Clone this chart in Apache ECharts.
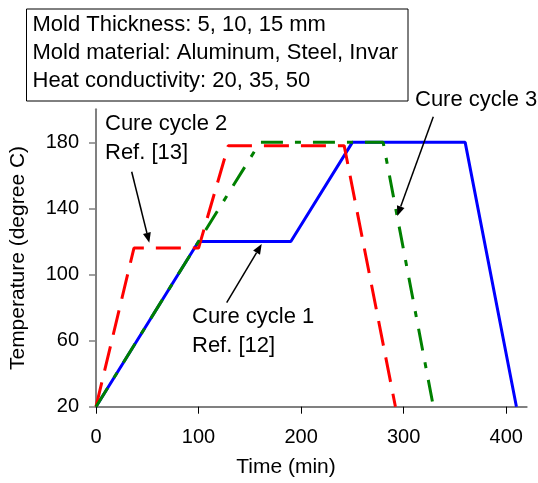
<!DOCTYPE html>
<html><head><meta charset="utf-8">
<script src="https://cdn.jsdelivr.net/npm/echarts@6/dist/echarts.min.js"></script>
<style>html,body{margin:0;padding:0;background:#fff}#c{width:538px;height:483px}</style>
</head><body><div id="c"></div>
<script>
// ---- data ----
const cycle1Time = [0, 100, 190, 250, 360, 410];
const cycle1Temp = [20, 120, 120, 180, 180, 20];
const cycle2Time = [0, 37, 100, 129, 242, 292];
const cycle2Temp = [20, 116, 116, 178, 178, 20];
const cycle3Time = [0, 100, 160, 280, 329];
const cycle3Temp = [20, 120, 180, 180, 20];
const xTicks = [0, 100, 200, 300, 400];
const yTicks = [20, 60, 100, 140, 180];
const infoLines = ['Mold Thickness: 5, 10, 15 mm', 'Mold material: Aluminum, Steel, Invar', 'Heat conductivity: 20, 35, 50'];
const xTitle = 'Time (min)';
const yTitle = 'Temperature (degree C)';

const FONT = '"Liberation Sans", Arial, Helvetica, sans-serif';
const pairs = (t, v) => t.map((x, i) => [x, v[i]]);

function arrow(x1, y1, x2, y2) {
  const a = Math.atan2(y2 - y1, x2 - x1), L = 10, W = 4;
  const bx = x2 - L * Math.cos(a), by = y2 - L * Math.sin(a);
  return [
    { type: 'line', z: 50, shape: { x1, y1, x2: bx, y2: by }, style: { stroke: '#000', lineWidth: 1.5 } },
    { type: 'polygon', z: 50, shape: { points: [[x2, y2], [bx + W * Math.sin(a), by - W * Math.cos(a)], [bx - W * Math.sin(a), by + W * Math.cos(a)]] }, style: { fill: '#000' } }
  ];
}
function label(text, x, y, size) {
  return { type: 'text', z: 50, x, y, style: { text, font: size + 'px ' + FONT, fill: '#000', verticalAlign: 'middle', textVerticalAlign: 'middle', align: 'left' } };
}

const graphics = [
  { type: 'rect', z: 60, shape: { x: 26.5, y: 9, width: 381.5, height: 92 }, style: { fill: '#fff', stroke: '#000', lineWidth: 1 } },
  ...infoLines.map((t, i) => Object.assign(label(t, 32.5, 24.5 + i * 28, 22), { z: 61 })),
  label('Cure cycle 2', 105, 124, 22),
  label('Ref. [13]', 105, 153, 22),
  label('Cure cycle 1', 192, 317, 22),
  label('Ref. [12]', 192, 346, 22),
  label('Cure cycle 3', 415, 100, 22),
  ...arrow(131.7, 171.7, 149.3, 242.7),
  ...arrow(226.7, 302.7, 261.7, 244),
  ...arrow(433.3, 116.7, 397.3, 216),
  { type: 'text', z: 50, x: 286, y: 467, style: { text: xTitle, font: '21px ' + FONT, fill: '#000', align: 'center', verticalAlign: 'middle', textAlign: 'center', textVerticalAlign: 'middle' } }
];

const axisLine = { show: true, lineStyle: { color: '#808080', width: 2 } };
const chart = echarts.init(document.getElementById('c'), null, { renderer: 'canvas' });
chart.setOption({
  animation: false,
  backgroundColor: '#fff',
  grid: { left: 94, right: 11.3, top: 109.3, bottom: 76.3 },
  xAxis: {
    type: 'value', min: 0, max: 420,
    axisLine, splitLine: { show: false },
    axisTick: { show: true, length: 7, customValues: xTicks, lineStyle: { color: '#000', width: 1 } },
    axisLabel: { customValues: xTicks, margin: 21, color: '#000', fontSize: 20, fontFamily: FONT }
  },
  yAxis: {
    type: 'value', min: 20, max: 200,
    name: yTitle, nameLocation: 'middle', nameGap: 67,
    nameTextStyle: { color: '#000', fontSize: 21, fontFamily: FONT },
    axisLine, splitLine: { show: false },
    axisTick: { show: true, length: 7, customValues: yTicks, lineStyle: { color: '#808080', width: 1.5 } },
    axisLabel: { customValues: yTicks, margin: 17, color: '#000', fontSize: 20, fontFamily: FONT }
  },
  series: [
    { type: 'line', name: 'Cure cycle 1', data: pairs(cycle1Time, cycle1Temp), symbol: 'none', z: 2,
      lineStyle: { color: '#0000ff', width: 3 } },
    { type: 'line', name: 'Cure cycle 2', data: pairs(cycle2Time, cycle2Temp), symbol: 'none', z: 3,
      lineStyle: { color: '#ff0000', width: 3, type: [25, 12] } },
    { type: 'line', name: 'Cure cycle 3', data: pairs(cycle3Time, cycle3Temp), symbol: 'none', z: 4,
      lineStyle: { color: '#008000', width: 3, type: [22, 12, 6, 12] } }
  ],
  graphic: graphics
});
</script></body></html>
